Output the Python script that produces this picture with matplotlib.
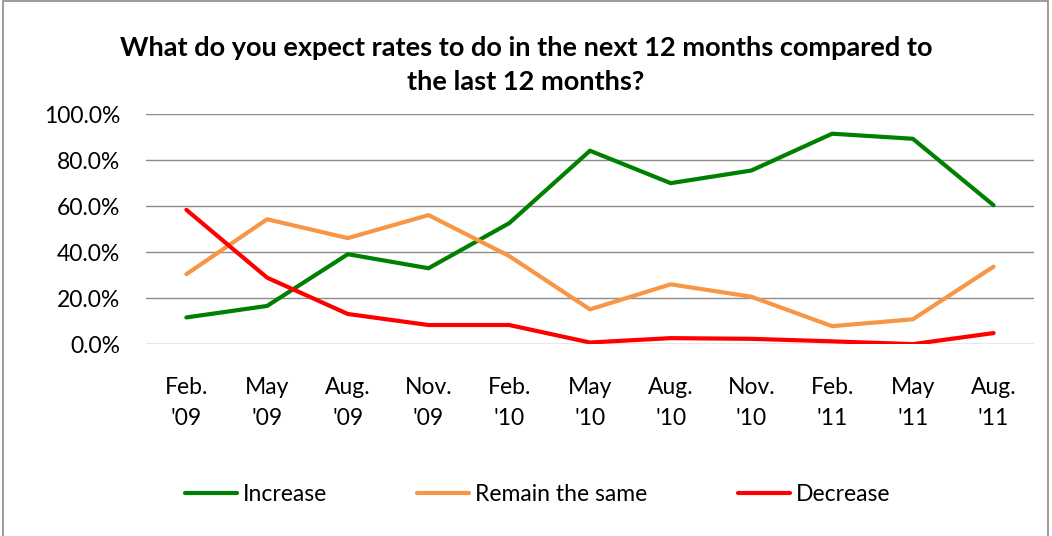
import matplotlib.pyplot as plt
from matplotlib.patches import Rectangle
from matplotlib.ticker import FuncFormatter

plt.rcParams['font.family'] = ['Lato', 'DejaVu Sans']

periods = ["Feb.\n'09", "May\n'09", "Aug.\n'09", "Nov.\n'09", "Feb.\n'10", "May\n'10",
           "Aug.\n'10", "Nov.\n'10", "Feb.\n'11", "May\n'11", "Aug.\n'11"]
increase = [11.6, 16.6, 39.1, 33.0, 52.6, 84.1, 70.0, 75.5, 91.5, 89.3, 60.4]
remain_same = [30.4, 54.3, 46.1, 56.1, 38.3, 15.1, 26.0, 20.6, 7.8, 10.8, 33.7]
decrease = [58.4, 28.9, 13.1, 8.3, 8.3, 0.7, 2.6, 2.3, 1.2, 0.0, 4.8]

fig = plt.figure(figsize=(10.52, 5.36), dpi=100)
ax = fig.add_axes([0.1388, 0.358, 0.844, 0.429])

# chart frame
fig.patches.append(Rectangle((0.003, -0.01), 0.993, 1.008, transform=fig.transFigure,
                             fill=False, edgecolor='#8a8a8a', linewidth=1.2))

x = range(len(periods))
ax.plot(x, increase, color='#008000', lw=3, label='Increase', solid_capstyle='round')
ax.plot(x, remain_same, color='#F79646', lw=3, label='Remain the same', solid_capstyle='round')
ax.plot(x, decrease, color='#FF0000', lw=3, label='Decrease', solid_capstyle='round')

ax.set_xlim(-0.5, len(periods) - 0.5)
ax.set_ylim(0, 100)
ax.set_yticks(range(0, 101, 20))
ax.yaxis.set_major_formatter(FuncFormatter(lambda v, p: f"{v:.1f}%"))
ax.set_xticks(list(x))
ax.set_xticklabels(periods, linespacing=1.58)
ax.tick_params(axis='both', length=0, labelsize=16.5)
ax.tick_params(axis='y', pad=18.5)
ax.tick_params(axis='x', pad=24)
ax.grid(axis='y', color='#8c8c8c', linewidth=1)
ax.set_axisbelow(True)
for s in ax.spines.values():
    s.set_visible(False)

fig.text(0.5, 0.879, "What do you expect rates to do in the next 12 months compared to\nthe last 12 months?",
         ha='center', va='center', fontsize=19.5, fontweight='bold', linespacing=1.5)

fig.legend(loc='center', bbox_to_anchor=(0.511, 0.078), ncol=3, frameon=False, fontsize=16.5,
           handlelength=2.27, handletextpad=0.26, columnspacing=3.95)

fig.savefig('out.png', dpi=100)
